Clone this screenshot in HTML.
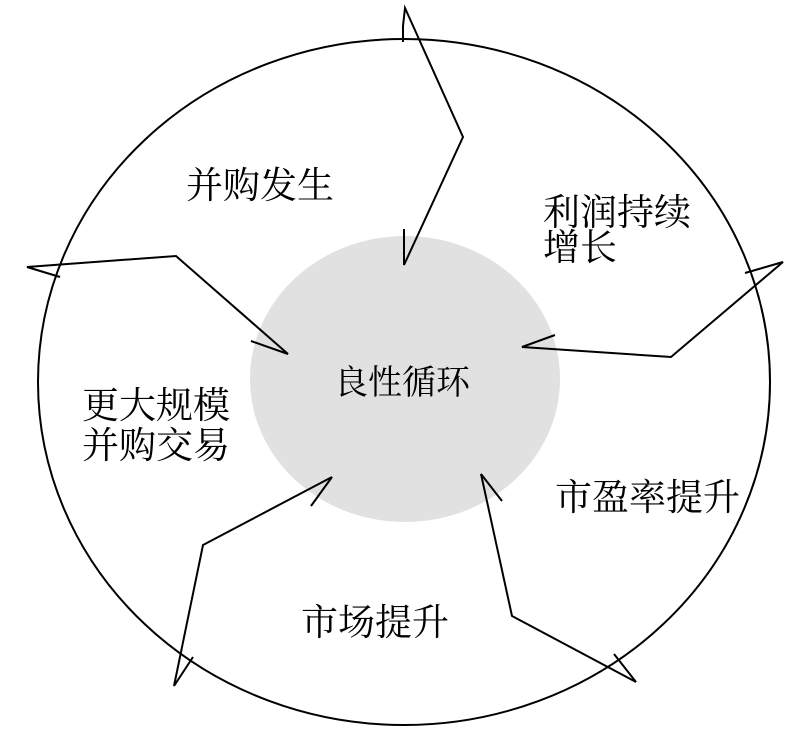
<!DOCTYPE html>
<html><head><meta charset="utf-8"><style>
html,body{margin:0;padding:0;background:#fff;}
svg{display:block;}
text{font-family:"Liberation Serif","Noto Serif CJK SC",serif;font-size:37px;fill:#000;}
</style></head><body>
<svg width="797" height="730" viewBox="0 0 797 730" xmlns="http://www.w3.org/2000/svg">
<rect width="797" height="730" fill="#fff"/>
<ellipse cx="404" cy="382" rx="366" ry="343" fill="none" stroke="#000" stroke-width="2"/>
<ellipse cx="405" cy="379" rx="155" ry="143" fill="#e1e1e1"/>
<g fill="none" stroke="#000" stroke-width="2" stroke-linejoin="miter">
<polyline points="403,42 403,26 405,8 463,137 404,265 404,229"/>
<polyline points="745,273 783,262 671,357 522,347 555,335"/>
<polyline points="502,501 481,474 512,616 636,682 614,654"/>
<polyline points="311,506 332,477 203,545 174,686 193,657"/>
<polyline points="60,277 27,267 176,256 288,354 251,341"/>
</g>
<text x="186" y="198">并购发生</text>
<text x="543" y="225">利润持续</text>
<text x="543" y="260">增长</text>
<text x="334" y="394" style="font-size:34px">良性循环</text>
<text x="82" y="418">更大规模</text>
<text x="82" y="458">并购交易</text>
<text x="555" y="510">市盈率提升</text>
<text x="301" y="635">市场提升</text>
</svg>
</body></html>
